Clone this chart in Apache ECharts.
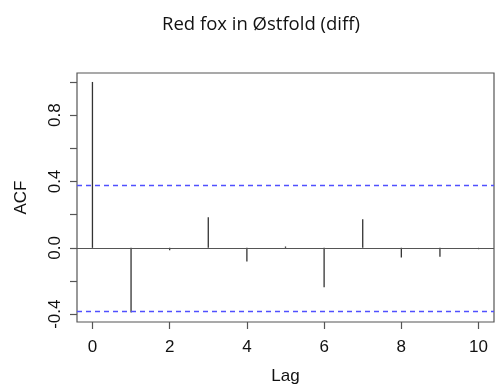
<!DOCTYPE html>
<html>
<head>
<meta charset="utf-8">
<script src="https://cdn.jsdelivr.net/npm/echarts@6/dist/echarts.min.js"></script>
<style>
  html, body { margin: 0; padding: 0; background: #fff; }
  #main { width: 495px; height: 390px; }
</style>
</head>
<body>
<div id="main"></div>
<script>
// ACF of differenced red fox series, lags 0..10
var lags = [0, 1, 2, 3, 4, 5, 6, 7, 8, 9, 10]
var acf = [1.0, -0.39, -0.015, 0.184, -0.082, 0.008, -0.237, 0.172, -0.058, -0.054, -0.008]
var ciLimit = 0.383
var xTicks = [0, 2, 4, 6, 8, 10]
var yTicks = [-0.4, -0.2, 0, 0.2, 0.4, 0.6, 0.8, 1.0]
var yLabels = [-0.4, 0, 0.4, 0.8]

var chart = echarts.init(document.getElementById('main'))

var points = lags.map(function (l, i) { return [l, acf[i]] })

var axisFont = { fontFamily: 'Liberation Sans', fontSize: 17, color: '#111' }
var ciStyle = { type: [5, 4], color: '#5050ff', width: 1.3, opacity: 1 }

chart.setOption({
    animation: false,
    title: {
        text: 'Red fox in Østfold (diff)',
        left: 157, top: 10,
        textStyle: { fontFamily: 'Open Sans', fontSize: 18.5, fontWeight: 'normal', color: '#111' }
    },
    grid: {
        left: 77, top: 73, right: 1, bottom: 67,
        show: true, borderColor: '#555', borderWidth: 1.2
    },
    xAxis: {
        type: 'value', min: -0.4, max: 10.4,
        name: 'Lag', nameLocation: 'middle', nameGap: 46,
        nameTextStyle: axisFont,
        axisLine: { show: false, onZero: false },
        axisTick: { show: true, length: 7, customValues: xTicks, lineStyle: { color: '#555', width: 1.2 } },
        axisLabel: Object.assign({ margin: 17, customValues: xTicks }, axisFont),
        splitLine: { show: false }
    },
    yAxis: {
        type: 'value', min: -0.447, max: 1.054,
        name: 'ACF', nameLocation: 'middle', nameGap: 47, nameRotate: 90,
        nameTextStyle: axisFont,
        axisLine: { show: false, onZero: false },
        axisTick: { show: true, length: 7, customValues: yTicks, lineStyle: { color: '#555', width: 1.2 } },
        axisLabel: Object.assign({
            margin: 13, rotate: 90, customValues: yLabels,
            formatter: function (v) { return v.toFixed(1) }
        }, axisFont),
        splitLine: { show: false }
    },
    series: [{
        type: 'bar',
        data: points,
        barWidth: 1.3,
        itemStyle: { color: '#333' },
        markLine: {
            silent: true,
            symbol: 'none',
            label: { show: false },
            lineStyle: { type: 'solid', color: '#555', width: 1.2 },
            data: [{ yAxis: 0 }]
        }
    }, {
        // confidence bounds
        type: 'line',
        data: [],
        color: '#5050ff',
        itemStyle: { color: '#5050ff' },
        lineStyle: ciStyle,
        markLine: {
            silent: true,
            symbol: 'none',
            label: { show: false },
            itemStyle: { color: '#5050ff' },
            lineStyle: ciStyle,
            emphasis: { lineStyle: ciStyle },
            data: [
                { yAxis: ciLimit, lineStyle: ciStyle },
                { yAxis: -ciLimit, lineStyle: ciStyle }
            ]
        }
    }]
})
</script>
</body>
</html>
